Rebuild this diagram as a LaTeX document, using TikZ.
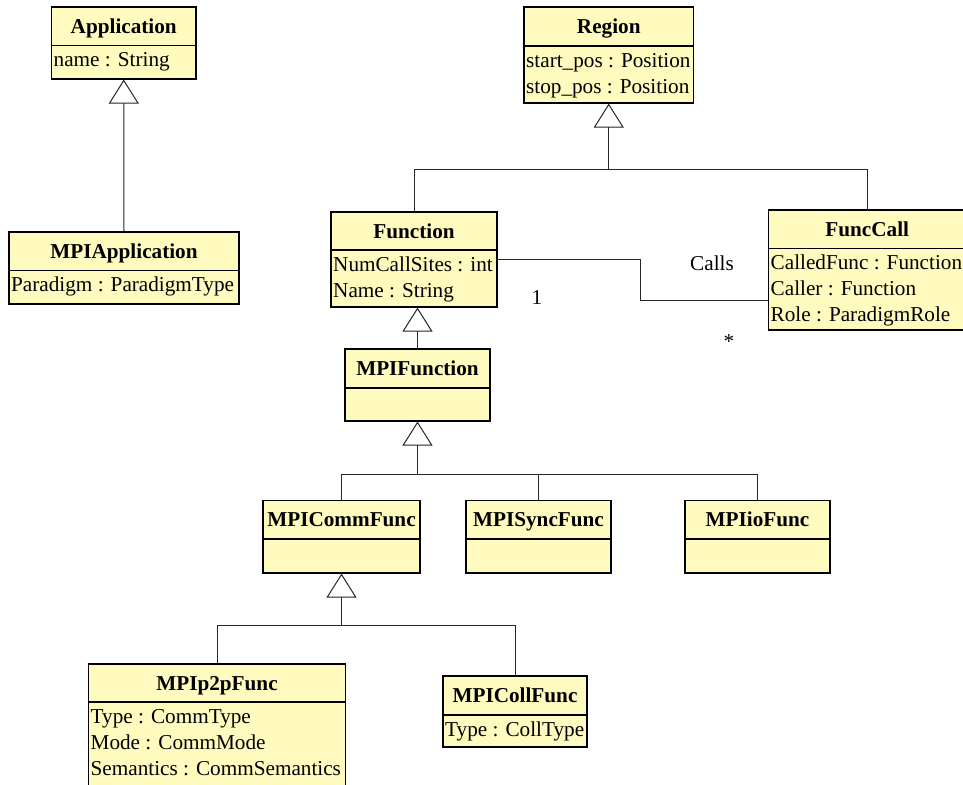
\documentclass[tikz,border=0pt]{standalone}
\usepackage{fontspec}
\setmainfont{Liberation Serif}
\usetikzlibrary{arrows.meta,fit}
\definecolor{classfill}{RGB}{255,250,190}
\tikzset{
  umlfont/.style={font=\fontsize{21.2}{26}\selectfont},
  classbox/.style={draw=black, line width=1.1pt, fill=classfill, inner sep=0pt},
  classtitle/.style={font=\fontsize{21.2}{26}\selectfont\bfseries, anchor=base, inner sep=0pt},
  attr/.style={umlfont, anchor=base west, inner sep=0pt},
  conn/.style={draw=black!85, line width=1pt},
  gen/.style={conn, -{Triangle[open, length=24pt, width=30pt]}},
  lbl/.style={umlfont, anchor=base, inner sep=0pt},
}
% #1 name, #2 left, #3 top, #4 right, #5 separator, #6 bottom, #7 title, #8 attributes
\newcommand\umlclass[8]{%
  \node[classbox, fit={(#2,#3) (#4,#6)}] (#1) {};
  \draw[line width=1.1pt] (#2,#5) -- (#4,#5);
  \node[classtitle] (#1-name) at ({(#2+#4)/2},{(#3+#5)/2+7}) {#7};
  \ifx\relax#8\relax\else
    \foreach \a [count=\i from 0] in {#8} {\node[attr] (#1-attr\i) at (#2+2,#5+21+26*\i) {\a};}
  \fi
}
\begin{document}
\begin{tikzpicture}[x=1pt, y=-1pt]
  \fill[white] (0,0) rectangle (963,784);
  \useasboundingbox (0,0) rectangle (963,784);

  % classes
  \umlclass{application}{51.5}{7}{196}{45.5}{79}{Application}{name : String}
  \umlclass{mpiapp}{9}{232}{239}{270.5}{304}{MPIApplication}{Paradigm : ParadigmType}
  \umlclass{region}{524}{7}{693.5}{46}{103}{Region}{start\_pos : Position, stop\_pos : Position}
  \umlclass{function}{331}{212}{497}{250}{307}{Function}{NumCallSites : int, Name : String}
  \umlclass{funccall}{768.5}{210}{966}{248.5}{330}{FuncCall}{CalledFunc : Function, Caller : Function, Role : ParadigmRole}
  \umlclass{mpifunction}{345}{349}{490}{388}{421}{MPIFunction}{}
  \umlclass{mpicomm}{263}{500.5}{420}{539}{573}{MPICommFunc}{}
  \umlclass{mpisync}{466}{500.5}{611}{539}{573}{MPISyncFunc}{}
  \umlclass{mpiio}{685}{500.5}{830}{539}{573}{MPIioFunc}{}
  \umlclass{mpip2p}{88.5}{664}{345.5}{702}{800}{MPIp2pFunc}{Type : CommType, Mode : CommMode, Semantics : CommSemantics}
  \umlclass{mpicoll}{443}{676}{587}{715}{747}{MPICollFunc}{Type : CollType}

  % generalizations
  \draw[gen] (mpiapp.north) -- (application.south);

  \path (region.south) ++(0,66) coordinate (regionbar);
  \draw[conn] (function.north) |- (regionbar) -| (funccall.north);
  \draw[gen] (regionbar) -- (region.south);

  \draw[gen] (mpifunction.north) -- (mpifunction.north |- function.south);

  \path (mpifunction.south) ++(0,53) coordinate (mpifbar);
  \draw[conn] (mpicomm.north) |- (mpifbar) -| (mpiio.north);
  \draw[conn] (mpisync.north) |- (mpifbar);
  \draw[gen] (mpifbar) -- (mpifunction.south);

  \path (mpicomm.south) ++(0,52) coordinate (commbar);
  \draw[conn] (mpip2p.north) |- (commbar) -| (mpicoll.north);
  \draw[gen] (commbar) -- (mpicomm.south);

  % association
  \draw[conn] (function.east) -- ++(143,0) |- ([yshift=-30pt]funccall.west);
  \node[lbl] (calls) at (712,270) {Calls};
  \node[lbl] (mult1) at (537,304) {1};
  \node[lbl] (multmany) at (729,348) {*};
\end{tikzpicture}
\end{document}
